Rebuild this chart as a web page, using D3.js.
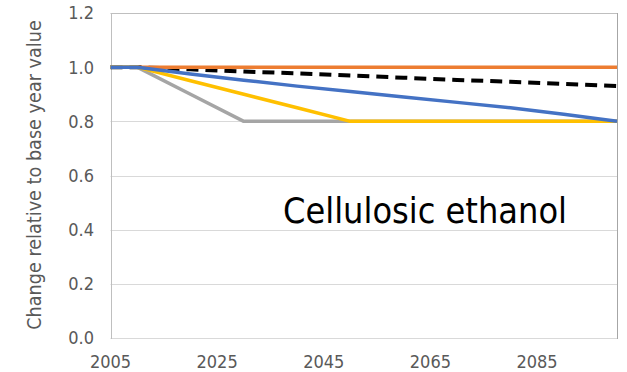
<!DOCTYPE html>
<html><head><meta charset="utf-8">
<script src="https://cdn.jsdelivr.net/npm/d3@7"></script>
<style>body{margin:0;background:#fff}svg{display:block}</style>
</head><body>
<script>
const years = [2005, 2010, 2020, 2030, 2040, 2050, 2060, 2070, 2080, 2090, 2100];
const orangeVals = [1.0, 1.0, 1.0, 1.0, 1.0, 1.0, 1.0, 1.0, 1.0, 1.0, 1.0];
const grayVals   = [1.0, 1.0, 0.9, 0.8, 0.8, 0.8, 0.8, 0.8, 0.8, 0.8, 0.8];
const yellowVals = [1.0, 1.0, 0.95, 0.9, 0.85, 0.8, 0.8, 0.8, 0.8, 0.8, 0.8];
const blueVals   = [1.0, 1.0, 0.975, 0.952, 0.93, 0.91, 0.89, 0.87, 0.85, 0.826, 0.8];
const dashVals   = [1.0, 1.0, 0.992, 0.984, 0.977, 0.969, 0.961, 0.953, 0.946, 0.938, 0.93];
const xTicks = [2005, 2025, 2045, 2065, 2085];
const yTicks = [0.0, 0.2, 0.4, 0.6, 0.8, 1.0, 1.2];
const yTitle = "Change relative to base year value";
const label = "Cellulosic ethanol";

const W = 627, H = 372;
const svg = d3.select("body").append("svg").attr("width", W).attr("height", H);
const x = d3.scaleLinear().domain([2005, 2100]).range([110.5, 617]);
const y = d3.scaleLinear().domain([0, 1.2]).range([338, 13]);
const font = "'DejaVu Sans Condensed', 'DejaVu Sans', sans-serif";

// gridlines
svg.append("g").selectAll("line").data(yTicks.filter(v => v > 0)).join("line")
  .attr("x1", x(2005)).attr("x2", x(2100))
  .attr("y1", d => Math.round(y(d)) + 0.5).attr("y2", d => Math.round(y(d)) + 0.5)
  .attr("stroke", d => d === 1.2 ? "#BFBFBF" : "#D9D9D9").attr("stroke-width", 1);
// bottom axis
svg.append("line").attr("x1", x(2005)).attr("x2", x(2100))
  .attr("y1", y(0) + 0.5).attr("y2", y(0) + 0.5).attr("stroke", "#D9D9D9");
// left axis and right border
svg.append("line").attr("x1", Math.round(x(2005)) + 0.5).attr("x2", Math.round(x(2005)) + 0.5)
  .attr("y1", y(1.2)).attr("y2", y(0) + 1).attr("stroke", "#BFBFBF");
svg.append("line").attr("x1", Math.round(x(2100)) + 0.5).attr("x2", Math.round(x(2100)) + 0.5)
  .attr("y1", y(1.2)).attr("y2", y(0) + 1).attr("stroke", "#A6A6A6");

// y tick labels
svg.append("g").selectAll("text").data(yTicks).join("text")
  .attr("x", 94).attr("y", d => y(d)).attr("dy", "0.36em")
  .attr("text-anchor", "end").attr("font-family", font).attr("font-size", 18)
  .attr("fill", "#595959").text(d => d.toFixed(1));
// x tick labels
svg.append("g").selectAll("text").data(xTicks).join("text")
  .attr("x", d => x(d)).attr("y", 368)
  .attr("text-anchor", "middle").attr("font-family", font).attr("font-size", 18)
  .attr("fill", "#595959").text(d => d);

// y title
const yt = svg.append("text").attr("transform", "translate(41,175) rotate(-90)")
  .attr("text-anchor", "middle").attr("font-family", font).attr("font-size", 16.5)
  .attr("fill", "#595959").text(yTitle);
const ytl = yt.node().getComputedTextLength();
yt.attr("font-size", 16.5 * 310 / ytl);

// lines
const line = d3.line().x(d => x(d[0])).y(d => y(d[1]));
const series = [
  {vals: dashVals, color: "#000000", dash: "12,7", w: 4},
  {vals: orangeVals, color: "#ED7D31", w: 3.5},
  {vals: grayVals, color: "#A5A5A5", w: 3.5},
  {vals: yellowVals, color: "#FFC000", w: 3.5},
  {vals: blueVals, color: "#4472C4", w: 3.5}
];
series.forEach(s => {
  svg.append("path").datum(years.map((yr, i) => [yr, s.vals[i]]))
    .attr("d", line).attr("fill", "none").attr("stroke", s.color)
    .attr("stroke-width", s.w).attr("stroke-dasharray", s.dash || null)
    .attr("stroke-linejoin", "round");
});

// label
const lt = svg.append("text").attr("x", 283).attr("y", 223)
  .attr("font-family", font).attr("font-size", 36).attr("fill", "#000").text(label);
const ltl = lt.node().getComputedTextLength();
lt.attr("font-size", 36 * 284 / ltl);
</script>
</body></html>
